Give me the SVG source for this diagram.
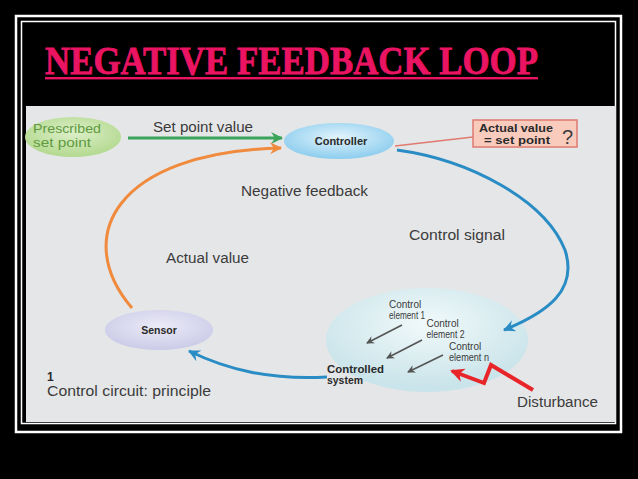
<svg xmlns="http://www.w3.org/2000/svg" width="638" height="479" viewBox="0 0 638 479">
<style>
.lbl{font-family:"Liberation Sans",Arial,sans-serif;font-size:14px;fill:#3b3b3b}
.sm{font-family:"Liberation Sans",Arial,sans-serif;font-size:10px;fill:#3b3b3b}
.bold{font-weight:bold;fill:#2a2a2a}
.title{font-family:"Liberation Serif","DejaVu Serif",serif;font-weight:bold;font-size:40px;fill:#ea1463;stroke:#ea1463;stroke-width:0.8}
</style>
<defs>
<radialGradient id="gGreen" cx="50%" cy="40%" r="60%"><stop offset="0" stop-color="#dcefc9"/><stop offset="1" stop-color="#b3d98f"/></radialGradient>
<radialGradient id="gBlue" cx="50%" cy="40%" r="60%"><stop offset="0" stop-color="#e3f4fc"/><stop offset="1" stop-color="#8ccdee"/></radialGradient>
<radialGradient id="gSys" cx="50%" cy="35%" r="60%"><stop offset="0" stop-color="#f1f9fa"/><stop offset="1" stop-color="#c9e4ea"/></radialGradient>
<radialGradient id="gSens" cx="50%" cy="40%" r="60%"><stop offset="0" stop-color="#ecebf7"/><stop offset="1" stop-color="#cbcbe8"/></radialGradient>
<marker id="aGreen" markerUnits="userSpaceOnUse" markerWidth="14" markerHeight="14" refX="11" refY="6" orient="auto" viewBox="0 0 14 12"><path d="M0,0 L12,6 L0,12 L4,6 z" fill="#3aa55a"/></marker>
<marker id="aOrange" markerUnits="userSpaceOnUse" markerWidth="14" markerHeight="14" refX="11" refY="6" orient="auto" viewBox="0 0 14 12"><path d="M0,0 L12,6 L0,12 L4,6 z" fill="#f08a3c"/></marker>
<marker id="aBlue" markerUnits="userSpaceOnUse" markerWidth="14" markerHeight="14" refX="11" refY="6" orient="auto" viewBox="0 0 14 12"><path d="M0,0 L12,6 L0,12 L4,6 z" fill="#2a8cc4"/></marker>
<marker id="aGray" markerUnits="userSpaceOnUse" markerWidth="9" markerHeight="9" refX="7" refY="4" orient="auto" viewBox="0 0 9 8"><path d="M0,0 L8,4 L0,8 L2.5,4 z" fill="#555"/></marker>
<marker id="aRed" markerUnits="userSpaceOnUse" markerWidth="16" markerHeight="16" refX="12" refY="7" orient="auto" viewBox="0 0 16 14"><path d="M0,0 L14,7 L0,14 L4,7 z" fill="#e8262a"/></marker>
</defs>

<rect x="0" y="0" width="638" height="479" fill="#000"/>
<rect x="16" y="16" width="605" height="416" fill="none" stroke="#fff" stroke-width="2.5"/>
<rect x="21.5" y="21.5" width="594" height="402" fill="none" stroke="#fff" stroke-width="1.5"/>

<g id="title">
<text class="title" x="45" y="74" textLength="493" lengthAdjust="spacingAndGlyphs">NEGATIVE FEEDBACK LOOP</text>
<rect x="45" y="77" width="493" height="2.4" fill="#ea1463"/>
</g>

<rect x="26" y="106" width="590" height="316" fill="#e5e6e8"/>

<g id="prescribed">
<ellipse cx="73" cy="137" rx="48" ry="20" fill="url(#gGreen)"/>
<text class="lbl" x="33" y="133" style="fill:#5f9a3e;font-size:12.5px" textLength="68" lengthAdjust="spacingAndGlyphs">Prescribed</text>
<text class="lbl" x="33" y="147" style="fill:#5f9a3e;font-size:12.5px" textLength="58" lengthAdjust="spacingAndGlyphs">set point</text>
</g>

<g id="controller">
<ellipse cx="339" cy="141" rx="55" ry="18" fill="url(#gBlue)"/>
<text class="sm bold" x="341" y="145" text-anchor="middle" style="font-size:11px">Controller</text>
</g>

<g id="check">
<rect x="473" y="120" width="104" height="27" fill="#f8cbbd" stroke="#e07a6f" stroke-width="1.5"/>
<text class="sm bold" x="479" y="131.5" style="font-size:11px" textLength="74" lengthAdjust="spacingAndGlyphs">Actual value</text>
<text class="sm bold" x="484" y="144" style="font-size:11px" textLength="66" lengthAdjust="spacingAndGlyphs">= set point</text>
<text class="lbl" x="562" y="144" style="font-size:20px">?</text>
</g>

<g id="sensor">
<ellipse cx="159" cy="330" rx="54" ry="20" fill="url(#gSens)"/>
<text class="sm bold" x="159" y="334" text-anchor="middle" style="font-size:10.5px">Sensor</text>
</g>

<g id="system">
<ellipse cx="427" cy="340" rx="101" ry="52" fill="url(#gSys)"/>
<text class="sm" x="389" y="307.5">Control</text>
<text class="sm" x="389" y="318.7" textLength="36" lengthAdjust="spacingAndGlyphs">element 1</text>
<text class="sm" x="426.5" y="327">Control</text>
<text class="sm" x="426.5" y="338.2" textLength="38" lengthAdjust="spacingAndGlyphs">element 2</text>
<text class="sm" x="449" y="349.5">Control</text>
<text class="sm" x="449" y="360.7" textLength="40" lengthAdjust="spacingAndGlyphs">element n</text>
<text class="sm bold" x="327" y="372.5" style="font-size:10.5px" textLength="57" lengthAdjust="spacingAndGlyphs">Controlled</text>
<text class="sm bold" x="327" y="384.3" style="font-size:10.5px" textLength="36" lengthAdjust="spacingAndGlyphs">system</text>
</g>

<g id="connectors" fill="none">
<path d="M128,138 L282,138" stroke="#3aa55a" stroke-width="3" marker-end="url(#aGreen)"/>
<path d="M132,308 C72,238 114,152 281,148" stroke="#f08a3c" stroke-width="3" marker-end="url(#aOrange)"/>
<path d="M397,150 C470,160 545,200 565,250 C578,290 548,312 504,330" stroke="#2a8cc4" stroke-width="3" marker-end="url(#aBlue)"/>
<path d="M327,377 C270,380 228,370 189,351" stroke="#2a8cc4" stroke-width="3" marker-end="url(#aBlue)"/>
<path d="M473,137 L395,146" stroke="#e07a6f" stroke-width="1.5"/>
<path d="M402,325 L367,343" stroke="#555" stroke-width="1.6" marker-end="url(#aGray)"/>
<path d="M422,340 L387,358" stroke="#555" stroke-width="1.6" marker-end="url(#aGray)"/>
<path d="M443,355 L408,372" stroke="#555" stroke-width="1.6" marker-end="url(#aGray)"/>
<polyline points="533,390 491,365 484,383 452,371" stroke="#e8262a" stroke-width="4" stroke-linejoin="miter" marker-end="url(#aRed)"/>
</g>

<g id="labels">
<text class="lbl" x="153" y="132" textLength="100" lengthAdjust="spacingAndGlyphs">Set point value</text>
<text class="lbl" x="241" y="196" textLength="127" lengthAdjust="spacingAndGlyphs">Negative feedback</text>
<text class="lbl" x="409" y="240" textLength="96" lengthAdjust="spacingAndGlyphs">Control signal</text>
<text class="lbl" x="166" y="263" textLength="83" lengthAdjust="spacingAndGlyphs">Actual value</text>
<text class="lbl" x="517" y="407" textLength="81" lengthAdjust="spacingAndGlyphs">Disturbance</text>
<text class="lbl bold" x="47" y="380.5" style="font-size:12px">1</text>
<text class="lbl" x="47" y="396" textLength="164" lengthAdjust="spacingAndGlyphs">Control circuit: principle</text>
</g>
</svg>
